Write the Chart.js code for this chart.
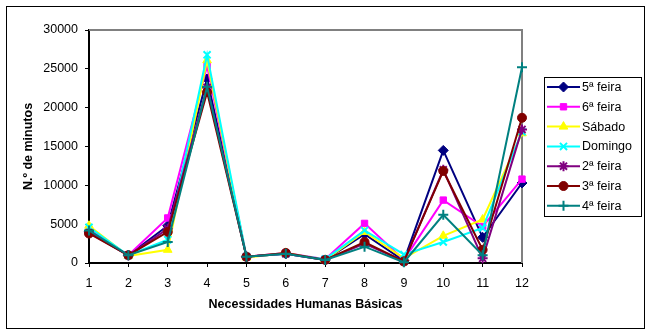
<!DOCTYPE html>
<html>
<head>
<meta charset="utf-8">
<script src="https://cdn.jsdelivr.net/npm/chart.js@4/dist/chart.umd.min.js"></script>
<style>
  html, body { margin: 0; padding: 0; background: #ffffff; }
  #wrap { width: 652px; height: 335px; position: relative; }
</style>
</head>
<body>
<div id="wrap"><canvas id="c" width="652" height="335"></canvas></div>
<script>
// Categories: basic human needs 1..12
const categories = ['1', '2', '3', '4', '5', '6', '7', '8', '9', '10', '11', '12'];
const yTicks = [0, 5000, 10000, 15000, 20000, 25000, 30000];

// Minutes per weekday
const quintaFeira = [4000, 1000, 4800, 23700, 800, 1200, 400, 3700, 300, 14500, 3300, 10300];
const sextaFeira  = [4300, 1000, 5800, 25400, 800, 1300, 500, 5100, 400, 8100, 4700, 10800];
const sabado      = [4800, 900, 1700, 26100, 700, 1300, 400, 4000, 600, 3500, 5600, 16700];
const domingo     = [4600, 1000, 3000, 26800, 800, 1200, 500, 4200, 1100, 2700, 4500, 16900];
const segundaFeira= [3900, 1000, 4400, 22600, 800, 1200, 400, 2500, 200, 12000, 600, 17200];
const tercaFeira  = [3800, 1000, 4000, 22000, 800, 1300, 400, 2700, 200, 11850, 1700, 18700];
const quartaFeira = [4200, 1000, 2700, 22700, 800, 1200, 400, 2100, 100, 6200, 1000, 25200];

const seriesNames = ['5ª feira', '6ª feira', 'Sábado', 'Domingo', '2ª feira', '3ª feira', '4ª feira'];
const seriesValues = [quintaFeira, sextaFeira, sabado, domingo, segundaFeira, tercaFeira, quartaFeira];
const seriesColors = ['#000080', '#FF00FF', '#FFFF00', '#00FFFF', '#800080', '#800000', '#008080'];
const seriesMarkers = ['rectRot', 'rect', 'triangle', 'crossRot', 'star', 'circle', 'cross'];
const markerRadius = [5, 4.5, 5, 5, 5, 4.5, 5];

const FONT = '"Liberation Sans", Arial, sans-serif';

const isLineMarker = m => m === 'crossRot' || m === 'cross' || m === 'star';

const datasets = seriesNames.map((name, i) => ({
  label: name,
  data: seriesValues[i],
  borderColor: seriesColors[i],
  backgroundColor: seriesColors[i],
  pointBackgroundColor: seriesColors[i],
  pointBorderColor: seriesColors[i],
  pointStyle: seriesMarkers[i],
  pointRadius: markerRadius[i],
  pointBorderWidth: isLineMarker(seriesMarkers[i]) ? 2 : 1,
  borderWidth: 2,
  tension: 0,
  fill: false,
  clip: false,
  order: seriesNames.length - i
}));

// Gray frame on the top and right of the plot area, and the outer chart border
const framePlugin = {
  id: 'frame',
  beforeDatasetsDraw(chart) {
    const { ctx, chartArea: a } = chart;
    ctx.save();
    ctx.strokeStyle = '#808080';
    ctx.lineWidth = 2;
    ctx.beginPath();
    ctx.moveTo(a.left, a.top);
    ctx.lineTo(a.right, a.top);
    ctx.lineTo(a.right, a.bottom);
    ctx.stroke();
    ctx.restore();
  },
  afterDraw(chart) {
    const { ctx } = chart;
    ctx.save();
    ctx.strokeStyle = '#000000';
    ctx.lineWidth = 1;
    ctx.strokeRect(6.5, 6.5, 638, 322);
    ctx.restore();
  }
};

// Boxed legend on the right: line sample with marker, then the series name
const legendPlugin = {
  id: 'boxLegend',
  afterDraw(chart) {
    const { ctx } = chart;
    const box = { x: 544.5, y: 77.5, w: 97, h: 139 };
    ctx.save();
    ctx.fillStyle = '#ffffff';
    ctx.fillRect(box.x, box.y, box.w, box.h);
    ctx.strokeStyle = '#000000';
    ctx.lineWidth = 1;
    ctx.strokeRect(box.x, box.y, box.w, box.h);
    ctx.font = '12.5px ' + FONT;
    ctx.textBaseline = 'middle';
    ctx.textAlign = 'left';
    chart.data.datasets.forEach((ds, i) => {
      const y = 87 + i * 19.8;
      ctx.strokeStyle = ds.borderColor;
      ctx.lineWidth = 2;
      ctx.beginPath();
      ctx.moveTo(547, y);
      ctx.lineTo(580, y);
      ctx.stroke();
      ctx.fillStyle = ds.pointBackgroundColor;
      ctx.strokeStyle = ds.pointBorderColor;
      ctx.lineWidth = ds.pointBorderWidth;
      Chart.helpers.drawPoint(ctx, {
        pointStyle: ds.pointStyle,
        radius: ds.pointRadius,
        rotation: 0,
        borderWidth: ds.pointBorderWidth
      }, 563.5, y);
      ctx.fillStyle = '#000000';
      ctx.fillText(ds.label, 582, y + 0.5);
    });
    ctx.restore();
  }
};

new Chart(document.getElementById('c'), {
  type: 'line',
  data: { labels: categories, datasets },
  options: {
    responsive: false,
    devicePixelRatio: 1,
    animation: false,
    events: [],
    layout: { padding: { left: 0, top: 30, right: 130, bottom: 0 } },
    plugins: {
      legend: { display: false },
      tooltip: { enabled: false }
    },
    scales: {
      x: {
        offset: false,
        grid: { drawOnChartArea: false, drawTicks: true, tickLength: 4, color: '#000000', lineWidth: 1 },
        border: { display: true, color: '#000000', width: 2 },
        ticks: { color: '#000000', font: { family: FONT, size: 12.5 }, padding: 9, maxRotation: 0, autoSkip: false },
        title: {
          display: true,
          text: 'Necessidades Humanas Básicas',
          color: '#000000',
          font: { family: FONT, size: 12.5, weight: 'bold' },
          padding: { top: 0, bottom: 23 }
        },
        afterFit(scale) { scale.height = 72; }
      },
      y: {
        min: 0,
        max: 30000,
        afterBuildTicks(scale) { scale.ticks = yTicks.map(v => ({ value: v })); },
        grid: { drawOnChartArea: false, drawTicks: true, tickLength: 4, color: '#000000', lineWidth: 1 },
        border: { display: true, color: '#000000', width: 2 },
        ticks: {
          color: '#000000',
          font: { family: FONT, size: 12.5 },
          padding: 7,
          callback: v => String(v)
        },
        title: {
          display: true,
          text: 'N.º de minutos',
          color: '#000000',
          font: { family: FONT, size: 12.5, weight: 'bold' },
          padding: { top: 21, bottom: 0 }
        },
        afterFit(scale) { scale.width = 89; }
      }
    }
  },
  plugins: [framePlugin, legendPlugin]
});
</script>
</body>
</html>
